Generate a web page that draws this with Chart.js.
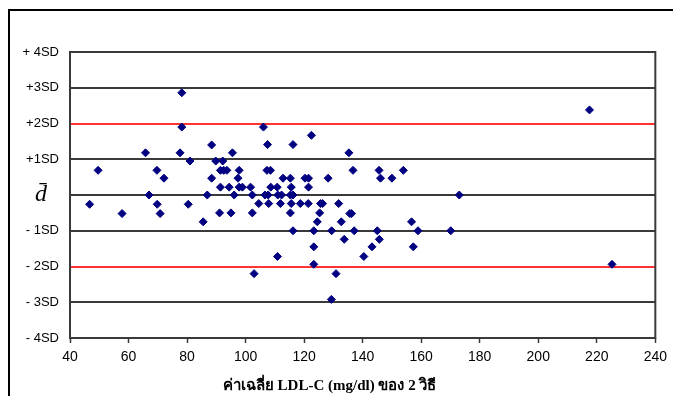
<!DOCTYPE html>
<html>
<head>
<meta charset="utf-8">
<script src="https://cdn.jsdelivr.net/npm/chart.js@4/dist/chart.umd.min.js"></script>
<style>
  html, body { margin: 0; padding: 0; background: #fff; overflow: hidden; }
  #wrap { position: relative; width: 673px; height: 396px; overflow: hidden; }
  #frame { position: absolute; left: 8px; top: 9px; width: 700px; height: 420px; border: 2px solid #000; box-sizing: border-box; }
  #c { position: absolute; left: 0; top: 0; }
</style>
</head>
<body>
<div id="wrap">
  <div id="frame"></div>
  <canvas id="c" width="673" height="396"></canvas>
</div>
<script>
// Mean LDL-C of the two methods (mg/dl)
const avgLDL = [
  46.7, 49.6, 57.8, 65.8, 67.0, 69.7, 69.8, 70.8, 72.1, 77.6,
  78.2, 78.2, 80.4, 81.0, 85.5, 86.9, 88.4, 88.4, 89.8, 91.1,
  91.4, 91.4, 92.2, 92.5, 93.6, 94.4, 95.0, 95.5, 96.1, 97.4,
  97.8, 97.8, 98.9, 101.7, 102.3, 102.3, 102.9, 104.5, 106.1, 106.6,
  107.5, 107.7, 107.9, 107.3, 108.5, 108.6, 110.8, 111.0, 112.3, 110.9,
  112.8, 115.3, 115.6, 115.3, 116.2, 111.9, 115.6, 118.7, 121.4, 125.6,
  126.3, 131.8, 115.3, 125.3, 135.6, 136.2, 124.5, 132.7, 156.7, 116.2,
  123.3, 129.4, 137.1, 145.0, 158.9, 170.1, 133.7, 145.7, 123.3, 143.2,
  157.3, 140.4, 123.3, 130.9, 129.3, 116.2, 122.5, 135.3, 136.7, 145.6,
  153.9, 120.3, 121.5, 128.2, 146.1, 150.0, 121.5, 173.0, 217.5, 225.2
];
// Difference between methods, in SD units from the mean difference
const diffSD = [
  -0.26, 0.69, -0.52, 1.18, 0.00, 0.69, -0.26, -0.52, 0.47, 1.18,
  2.86, 1.90, -0.26, 0.95, -0.75, 0.00, 1.40, 0.47, 0.95, -0.50,
  0.69, 0.22, 0.95, 0.69, 0.69, 0.22, -0.50, 1.18, 0.00, 0.47,
  0.69, 0.22, 0.22, 0.22, 0.00, -0.50, -2.20, -0.24, 1.90, 0.00,
  1.41, 0.00, -0.24, 0.69, 0.69, 0.22, 0.22, 0.00, 0.00, -1.72,
  0.47, 0.47, 0.22, 0.00, 0.00, -0.24, -0.24, -0.24, -0.24, -0.24,
  -0.24, -0.24, -0.50, -0.50, -0.52, -0.52, -0.75, -0.75, -0.75, -1.00,
  -1.00, -1.00, -1.00, -1.00, -1.00, -1.00, -1.24, -1.24, -1.45, -1.45,
  -1.45, -1.72, -1.94, -2.20, -2.92, 1.41, 1.67, 1.18, 0.69, 0.69,
  0.69, 0.47, 0.47, 0.47, 0.47, 0.47, 0.22, 0.00, 2.38, -1.94
];
const xTicks = [40, 60, 80, 100, 120, 140, 160, 180, 200, 220, 240];
const yTickValues = [4, 3, 2, 1, 0, -1, -2, -3, -4];
const yTickLabels = ['+ 4SD', '+3SD', '+2SD', '+1SD', 'd\u0304\u2002', '- 1SD', '- 2SD', '- 3SD', '- 4SD'];
const xTitle = 'ค่าเฉลี่ย LDL-C (mg/dl) ของ 2 วิธี';

const points = avgLDL.map((x, i) => ({ x: x, y: diffSD[i] }));

const frameBorder = {
  id: 'frameBorder',
  beforeDatasetsDraw(chart) {
    const { ctx, chartArea: a } = chart;
    ctx.save();
    ctx.strokeStyle = '#3a3a3a';
    ctx.lineWidth = 2;
    ctx.strokeRect(a.left, a.top, a.right - a.left, a.bottom - a.top);
    ctx.restore();
  }
};
const xTitlePlugin = {
  id: 'xTitlePlugin',
  afterDraw(chart) {
    const { ctx, chartArea: a } = chart;
    ctx.save();
    ctx.fillStyle = '#000';
    ctx.font = 'bold 15px "Liberation Serif", "Times New Roman", serif';
    ctx.textAlign = 'center';
    ctx.textBaseline = 'alphabetic';
    ctx.fillText(xTitle, (a.left + a.right) / 2 - 33, a.bottom + 52);
    ctx.restore();
  }
};

new Chart(document.getElementById('c'), {
  type: 'scatter',
  data: {
    datasets: [{
      data: points,
      pointStyle: 'rectRot',
      pointRadius: 4,
      pointBorderWidth: 1,
      pointBackgroundColor: '#000080',
      pointBorderColor: '#000080'
    }]
  },
  options: {
    responsive: false,
    animation: false,
    layout: { padding: { top: 52, right: 17, left: 0, bottom: 0 } },
    plugins: { legend: { display: false }, tooltip: { enabled: false }, title: { display: false } },
    scales: {
      x: {
        type: 'linear',
        min: 40, max: 240,
        afterBuildTicks(scale) { scale.ticks = xTicks.map(v => ({ value: v })); },
        afterFit(scale) { scale.height = 58; },
        grid: { drawOnChartArea: false, drawTicks: true, tickLength: 5, tickColor: '#3a3a3a', tickWidth: 1.5 },
        border: { display: false },
        ticks: {
          padding: 6,
          color: '#000',
          font: { family: '"Liberation Sans", Arial, sans-serif', size: 14 },
          maxRotation: 0
        }
      },
      y: {
        type: 'linear',
        min: -4, max: 4,
        afterBuildTicks(scale) { scale.ticks = yTickValues.map(v => ({ value: v })); },
        afterFit(scale) { scale.width = 70; },
        border: { display: false },
        grid: {
          drawTicks: false,
          lineWidth: 2,
          color(ctx) {
            const v = ctx.tick ? ctx.tick.value : null;
            if (v === 2 || v === -2) return '#ff3333';
            if (v === 4 || v === -4) return 'rgba(0,0,0,0)';
            return '#3a3a3a';
          }
        },
        ticks: {
          padding: 11,
          color: '#000',
          font(ctx) {
            if (ctx.tick && ctx.tick.value === 0) {
              return { family: '"Liberation Serif", "Times New Roman", serif', size: 24, style: 'italic' };
            }
            return { family: '"Liberation Sans", Arial, sans-serif', size: 13 };
          },
          callback(value) {
            const i = yTickValues.indexOf(value);
            return i >= 0 ? yTickLabels[i] : '';
          }
        }
      }
    }
  },
  plugins: [frameBorder, xTitlePlugin]
});
</script>
</body>
</html>
